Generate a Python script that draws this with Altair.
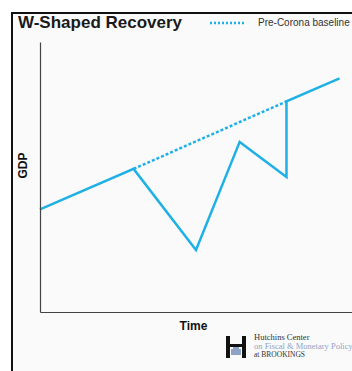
import altair as alt
import pandas as pd

# GDP path through the W-shaped recovery
time = [0, 30, 50, 64, 79, 79, 96]
gdp = [38, 53, 23, 63, 50, 78, 86.5]

# Pre-Corona trend between the shock and the catch-up
base_time = [30, 79]
base_gdp = [53, 78]

title_text = "W-Shaped Recovery"
legend_text = "Pre-Corona baseline"
x_title = "Time"
y_title = "GDP"
logo_lines = ["Hutchins Center", "on Fiscal & Monetary Policy", "at BROOKINGS"]

BLUE = "#1fb0e6"
FONT = "Liberation Sans"
SERIF = "Liberation Serif"

path = pd.DataFrame({"step": list(range(len(time))), "time": time, "gdp": gdp})
base = pd.DataFrame({"time": base_time, "gdp": base_gdp})
one = pd.DataFrame({"k": [0]})

xs = alt.Scale(domain=[0, 100], nice=False, zero=False)
ys = alt.Scale(domain=[0, 100], nice=False, zero=False)
x_axis = alt.Axis(title=x_title, titleX=153, titleY=13, titleBaseline="middle",
                  titleFontSize=12, titleFontWeight="bold", titleFont=FONT, titleColor="#111",
                  ticks=False, labels=False, grid=False, domainColor="#444", domainWidth=1.2,
                  zindex=1)
y_axis = alt.Axis(title=y_title, titleX=-18, titleY=123, titleBaseline="middle",
                  titleFontSize=12, titleFontWeight="bold", titleFont=FONT, titleColor="#111",
                  ticks=False, labels=False, grid=False, domainColor="#444", domainWidth=1.2,
                  zindex=1)

# white margin outside the card, and the card's black frame on top and left
margins = [
    alt.Chart(one).mark_rect(fill="white").encode(
        x=alt.value(-40), x2=alt.value(400), y=alt.value(-42), y2=alt.value(-29)
    ),
    alt.Chart(one).mark_rect(fill="white").encode(
        x=alt.value(-40), x2=alt.value(-28), y=alt.value(-42), y2=alt.value(400)
    ),
]
frame = [
    alt.Chart(one).mark_rule(color="#111", strokeWidth=2).encode(
        x=alt.value(-29), x2=alt.value(400), y=alt.value(-29)
    ),
    alt.Chart(one).mark_rule(color="#111", strokeWidth=2).encode(
        x=alt.value(-28), y=alt.value(-30), y2=alt.value(400)
    ),
]

# cropped glyph above the card
glyph = alt.Chart(one).mark_text(
    text="g", font=FONT, fontSize=26, fontWeight="bold", color="#111", baseline="alphabetic"
).encode(x=alt.value(137), y=alt.value(-48))

actual = alt.Chart(path).mark_line(color=BLUE, strokeWidth=2.5, strokeJoin="miter").encode(
    x=alt.X("time:Q", scale=xs, axis=x_axis),
    y=alt.Y("gdp:Q", scale=ys, axis=y_axis),
    order="step:Q",
)

baseline = alt.Chart(base).mark_line(color=BLUE, strokeWidth=2.5, strokeDash=[3, 2]).encode(
    x=alt.X("time:Q", scale=xs, axis=x_axis),
    y=alt.Y("gdp:Q", scale=ys, axis=y_axis),
)

title = alt.Chart(one).mark_text(
    text=title_text, font=FONT, fontSize=17, fontWeight="bold", color="#1a1a1a",
    align="left", baseline="middle"
).encode(x=alt.value(-22), y=alt.value(-19))

legend_rule = alt.Chart(one).mark_rule(color=BLUE, strokeWidth=2.5, strokeDash=[2, 2]).encode(
    x=alt.value(170), x2=alt.value(205), y=alt.value(-19)
)
legend_label = alt.Chart(one).mark_text(
    text=legend_text, font=FONT, fontSize=10, color="#333", align="left", baseline="middle"
).encode(x=alt.value(218), y=alt.value(-19))

# Hutchins Center logo
logo_parts = [
    (186, 190, 294, 316, "#111"),
    (202, 206, 294, 316, "#111"),
    (186, 206, 302, 305, "#111"),
    (191, 201, 307, 313, "#8ea4c6"),
    (193, 199, 305, 307, "#8ea4c6"),
]
logo_marks = [
    alt.Chart(one).mark_rect(fill=c).encode(
        x=alt.value(a), x2=alt.value(b), y=alt.value(t), y2=alt.value(u)
    )
    for a, b, t, u, c in logo_parts
]
logo_colors = ["#333", "#8ea4c6", "#333"]
logo_sizes = [8.5, 8.5, 7.5]
logo_y = [295, 304, 313]
logo_text = [
    alt.Chart(one).mark_text(
        text=s, font=SERIF, fontSize=fs, color=c, align="left", baseline="middle"
    ).encode(x=alt.value(214), y=alt.value(yy))
    for s, c, fs, yy in zip(logo_lines, logo_colors, logo_sizes, logo_y)
]

chart = alt.layer(
    baseline, actual, *margins, *frame, glyph, title, legend_rule, legend_label,
    *logo_marks, *logo_text
).properties(
    width=312, height=270,
    autosize=alt.AutoSizeParams(type="none"),
    padding={"left": 40, "top": 42, "right": 0, "bottom": 59},
    background="#fafafa",
).configure_view(stroke=None)

chart.save("out.html", embed_options={"renderer": "svg", "actions": False})
